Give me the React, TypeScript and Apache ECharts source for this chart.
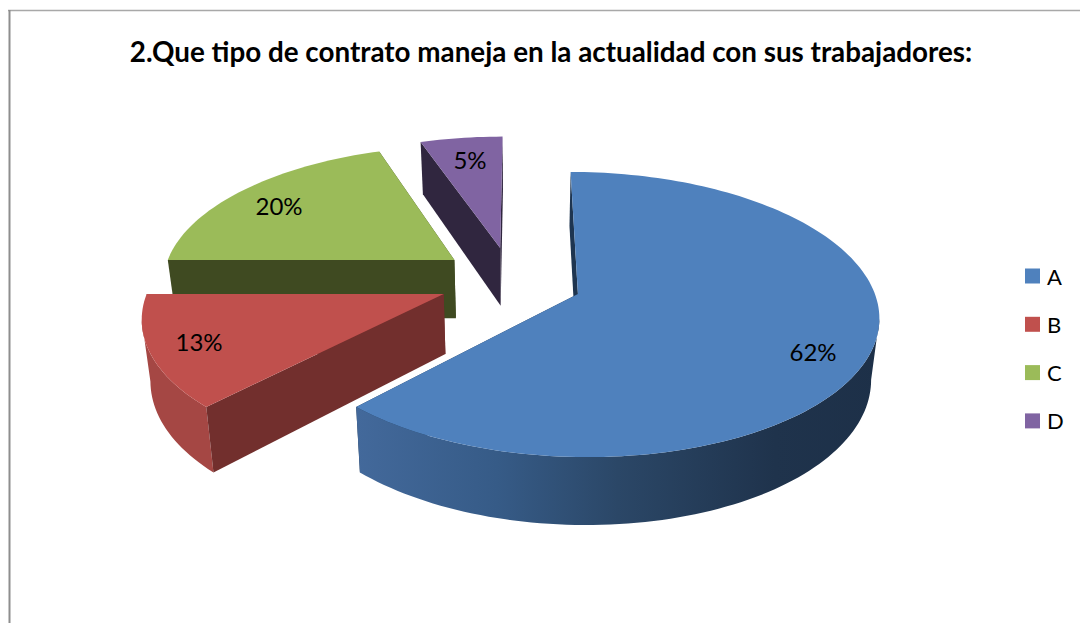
import React, { useEffect, useRef } from "react";
import * as echarts from "echarts";

const titleText = "2.Que tipo de contrato maneja en la actualidad con sus trabajadores:";
const categories = ["A", "B", "C", "D"];
// Shares; labels show them rounded (62, 13, 20, 5)
const percentages = [62.1, 12.9, 19.7, 5.3];

const faceColors = ["#4F81BD", "#C0504D", "#9BBB59", "#8064A2"];
const radialWallColors = ["#1E3550", "#722F2D", "#3F4A21", "#30263F"];
// Exploded position of each slice on the pie's plane, in radii (right, towards the viewer)
const explodeX = [0.195, -0.257, -0.229, -0.07];
const explodeZ = [0, 0, -0.2525, -0.346];
// Where Excel placed each data label
const labelX = [813, 199, 279, 470];
const labelY = [351, 341, 205, 159];
const seriesZ = [3, 2, 1, 1];

// Perspective camera
const VX = 520;
const CY = 294;
const RX = 297;
const RY = 139.6;
const K = 0.144;
const DEPTH = 60;
const SHRINK = 0.977;

type Pt = [number, number];

function top(X: number, Z: number): Pt {
  const s = 1 / (1 - K * Z);
  return [VX + RX * X * s, CY + RY * Z * s];
}
function bottom(X: number, Z: number): Pt {
  const s = 1 / (1 - K * Z);
  const p = top(X, Z);
  return [VX + (p[0] - VX) * SHRINK, p[1] + DEPTH * Math.pow(s, 0.8)];
}

function argExtreme(pts: Pt[], sign: number) {
  let best = 0;
  pts.forEach((p, i) => {
    if (sign * p[0] > sign * pts[best][0]) best = i;
  });
  return best;
}

function outerWall(index: number, rimTop: Pt[], rimBottom: Pt[]): Pt[] | null {
  const last = rimTop.length - 1;
  if (index === 0) {
    // From the right-hand silhouette round the front to the slice's end
    const i = argExtreme(rimTop, 1);
    const j = argExtreme(rimBottom, 1);
    return [...rimTop.slice(i, last + 1), ...rimBottom.slice(j, last + 1).reverse()];
  }
  if (index === 1) {
    // From the slice's start to the left-hand silhouette
    const i = argExtreme(rimTop, -1);
    const j = argExtreme(rimBottom, -1);
    return [...rimTop.slice(0, i + 1), ...rimBottom.slice(0, j + 1).reverse()];
  }
  return null; // faces away from the viewer
}

function wallFill(index: number) {
  if (index === 0) {
    return new echarts.graphic.LinearGradient(0, 0, 1, 0, [
      { offset: 0, color: "#43699B" },
      { offset: 0.27, color: "#365B87" },
      { offset: 0.5, color: "#2B4767" },
      { offset: 0.8, color: "#1F334C" },
      { offset: 1, color: "#1D3048" },
    ]);
  }
  return "#A54744";
}

function App() {
  const ref = useRef<HTMLDivElement>(null);
  useEffect(() => {
    const chart = echarts.init(ref.current!, null, { renderer: "svg" });
    const total = percentages.reduce((a, b) => a + b, 0);
    let acc = 0;
    const spans = percentages.map((v) => {
      const s = (acc / total) * 360;
      acc += v;
      return [s, (acc / total) * 360, v];
    });

    const renderItem = (index: number) => (_params: any, api: any) => {
      const a0 = api.value(0);
      const a1 = api.value(1);
      const ex = explodeX[index];
      const ez = explodeZ[index];
      const rimTop: Pt[] = [];
      const rimBottom: Pt[] = [];
      const steps = Math.max(4, Math.ceil((a1 - a0) / 1.5));
      for (let i = 0; i <= steps; i++) {
        const t = ((a0 + ((a1 - a0) * i) / steps) * Math.PI) / 180;
        const X = ex + Math.sin(t);
        const Z = ez - Math.cos(t);
        rimTop.push(top(X, Z));
        rimBottom.push(bottom(X, Z));
      }
      const apexTop = top(ex, ez);
      const apexBottom = bottom(ex, ez);
      const dark = radialWallColors[index];
      const poly = (points: Pt[], fill: any) => ({
        type: "polygon",
        shape: { points },
        style: { fill, stroke: null },
      });
      const wall = outerWall(index, rimTop, rimBottom);
      return {
        type: "group",
        children: [
          poly([rimTop[steps], rimBottom[steps], apexBottom, apexTop], dark),
          ...(wall ? [poly(wall, wallFill(index))] : []),
          poly([rimTop[0], rimBottom[0], apexBottom, apexTop], dark),
          poly([apexTop, ...rimTop], faceColors[index]),
          {
            type: "text",
            x: labelX[index],
            y: labelY[index],
            style: {
              text: Math.round(api.value(2)) + "%",
              fill: "#000",
              font: "24px Lato",
              align: "center",
              verticalAlign: "middle",
            },
          },
        ],
      };
    };

    chart.setOption({
      animation: false,
      backgroundColor: "#fff",
      title: {
        text: titleText,
        left: 546,
        top: 32,
        textAlign: "center",
        textStyle: { fontFamily: "Lato", fontWeight: "bold", fontSize: 27.8, color: "#000" },
      },
      legend: {
        orient: "vertical",
        left: 1020,
        top: 260,
        icon: "rect",
        itemWidth: 15,
        itemHeight: 15,
        itemGap: 26.3,
        data: categories,
        textStyle: { fontFamily: "Lato", fontSize: 22, color: "#000", padding: [0, 0, 0, 2] },
      },
      graphic: [
        { type: "line", shape: { x1: 8, y1: 10.5, x2: 1080, y2: 10.5 }, style: { stroke: "#A8A8A8", lineWidth: 1.5 } },
        { type: "line", shape: { x1: 9.5, y1: 10, x2: 9.5, y2: 623 }, style: { stroke: "#8E8E8E", lineWidth: 2 } },
      ],
      series: categories.map((name, i) => ({
        type: "custom",
        name,
        coordinateSystem: "none",
        z: seriesZ[i],
        itemStyle: { color: faceColors[i] },
        renderItem: renderItem(i),
        data: [spans[i]],
      })),
    });
    return () => chart.dispose();
  }, []);
  return <div ref={ref} style={{ position: "absolute", left: 0, top: 0, width: 1080, height: 623 }} />;
}

export default App;
